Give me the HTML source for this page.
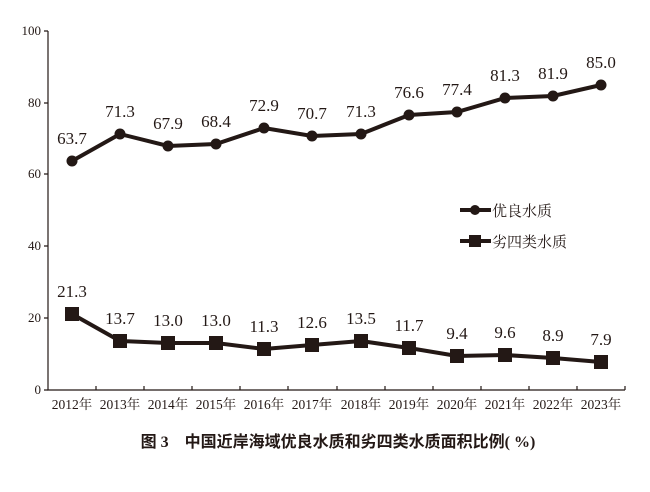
<!DOCTYPE html><html><head><meta charset="utf-8"><style>body{margin:0;background:#fff}</style></head><body>
<svg width="650" height="487" xmlns="http://www.w3.org/2000/svg" font-family="Liberation Serif, Noto Serif CJK SC, serif" fill="#231815">
<g stroke="#231815" stroke-width="1.2" fill="none">
<path d="M48,31 V390 H625"/>
<path d="M48,31h-4M48,103h-4M48,174h-4M48,246h-4M48,318h-4M48,390h-4"/>
<path d="M96,390v-4M144,390v-4M192,390v-4M240,390v-4M288,390v-4M337,390v-4M385,390v-4M433,390v-4M481,390v-4M529,390v-4M577,390v-4M625,390v-4"/>
</g>
<g font-size="13" text-anchor="end"><text x="41" y="35">100</text><text x="41" y="107">80</text><text x="41" y="178">60</text><text x="41" y="250">40</text><text x="41" y="322">20</text><text x="41" y="394">0</text></g>
<g font-size="13.5" text-anchor="middle" font-family="Liberation Serif, Noto Serif CJK SC, serif">
<text x="72" y="409">2012年</text><text x="120" y="409">2013年</text><text x="168" y="409">2014年</text><text x="216" y="409">2015年</text><text x="264" y="409">2016年</text><text x="312" y="409">2017年</text><text x="361" y="409">2018年</text><text x="409" y="409">2019年</text><text x="457" y="409">2020年</text><text x="505" y="409">2021年</text><text x="553" y="409">2022年</text><text x="601" y="409">2023年</text></g>
<polyline fill="none" stroke="#231815" stroke-width="4" points="72,161 120,134 168,146 216,144 264,128 312,136 361,134 409,115 457,112 505,98 553,96 601,85"/>
<g><circle cx="72" cy="161" r="5.5"/><circle cx="120" cy="134" r="5.5"/><circle cx="168" cy="146" r="5.5"/><circle cx="216" cy="144" r="5.5"/><circle cx="264" cy="128" r="5.5"/><circle cx="312" cy="136" r="5.5"/><circle cx="361" cy="134" r="5.5"/><circle cx="409" cy="115" r="5.5"/><circle cx="457" cy="112" r="5.5"/><circle cx="505" cy="98" r="5.5"/><circle cx="553" cy="96" r="5.5"/><circle cx="601" cy="85" r="5.5"/></g>
<polyline fill="none" stroke="#231815" stroke-width="4" points="72,314 120,341 168,343 216,343 264,349 312,345 361,341 409,348 457,356 505,355 553,358 601,362"/>
<g><rect x="65" y="307" width="14" height="14"/><rect x="113" y="334" width="14" height="14"/><rect x="161" y="336" width="14" height="14"/><rect x="209" y="336" width="14" height="14"/><rect x="257" y="342" width="14" height="14"/><rect x="305" y="338" width="14" height="14"/><rect x="354" y="334" width="14" height="14"/><rect x="402" y="341" width="14" height="14"/><rect x="450" y="349" width="14" height="14"/><rect x="498" y="348" width="14" height="14"/><rect x="546" y="351" width="14" height="14"/><rect x="594" y="355" width="14" height="14"/></g>
<g font-size="17" text-anchor="middle">
<text x="72" y="144">63.7</text><text x="120" y="117">71.3</text><text x="168" y="129">67.9</text><text x="216" y="127">68.4</text><text x="264" y="111">72.9</text><text x="312" y="119">70.7</text><text x="361" y="117">71.3</text><text x="409" y="98">76.6</text><text x="457" y="95">77.4</text><text x="505" y="81">81.3</text><text x="553" y="79">81.9</text><text x="601" y="68">85.0</text>
<text x="72" y="297">21.3</text><text x="120" y="324">13.7</text><text x="168" y="326">13.0</text><text x="216" y="326">13.0</text><text x="264" y="332">11.3</text><text x="312" y="328">12.6</text><text x="361" y="324">13.5</text><text x="409" y="331">11.7</text><text x="457" y="339">9.4</text><text x="505" y="338">9.6</text><text x="553" y="341">8.9</text><text x="601" y="345">7.9</text></g>
<line x1="460" y1="210" x2="491" y2="210" stroke="#231815" stroke-width="4"/><circle cx="475" cy="210" r="5"/>
<line x1="460" y1="241" x2="491" y2="241" stroke="#231815" stroke-width="4"/><rect x="469" y="235" width="12" height="12"/>
<g font-size="15" font-family="Noto Serif CJK SC, serif"><text x="492" y="216">优良水质</text><text x="492" y="247">劣四类水质</text></g>
<text x="338" y="447" font-size="16" font-weight="bold" text-anchor="middle" font-family="Liberation Serif, Noto Sans CJK SC, sans-serif">图 3　中国近岸海域优良水质和劣四类水质面积比例( %)</text>
</svg></body></html>
